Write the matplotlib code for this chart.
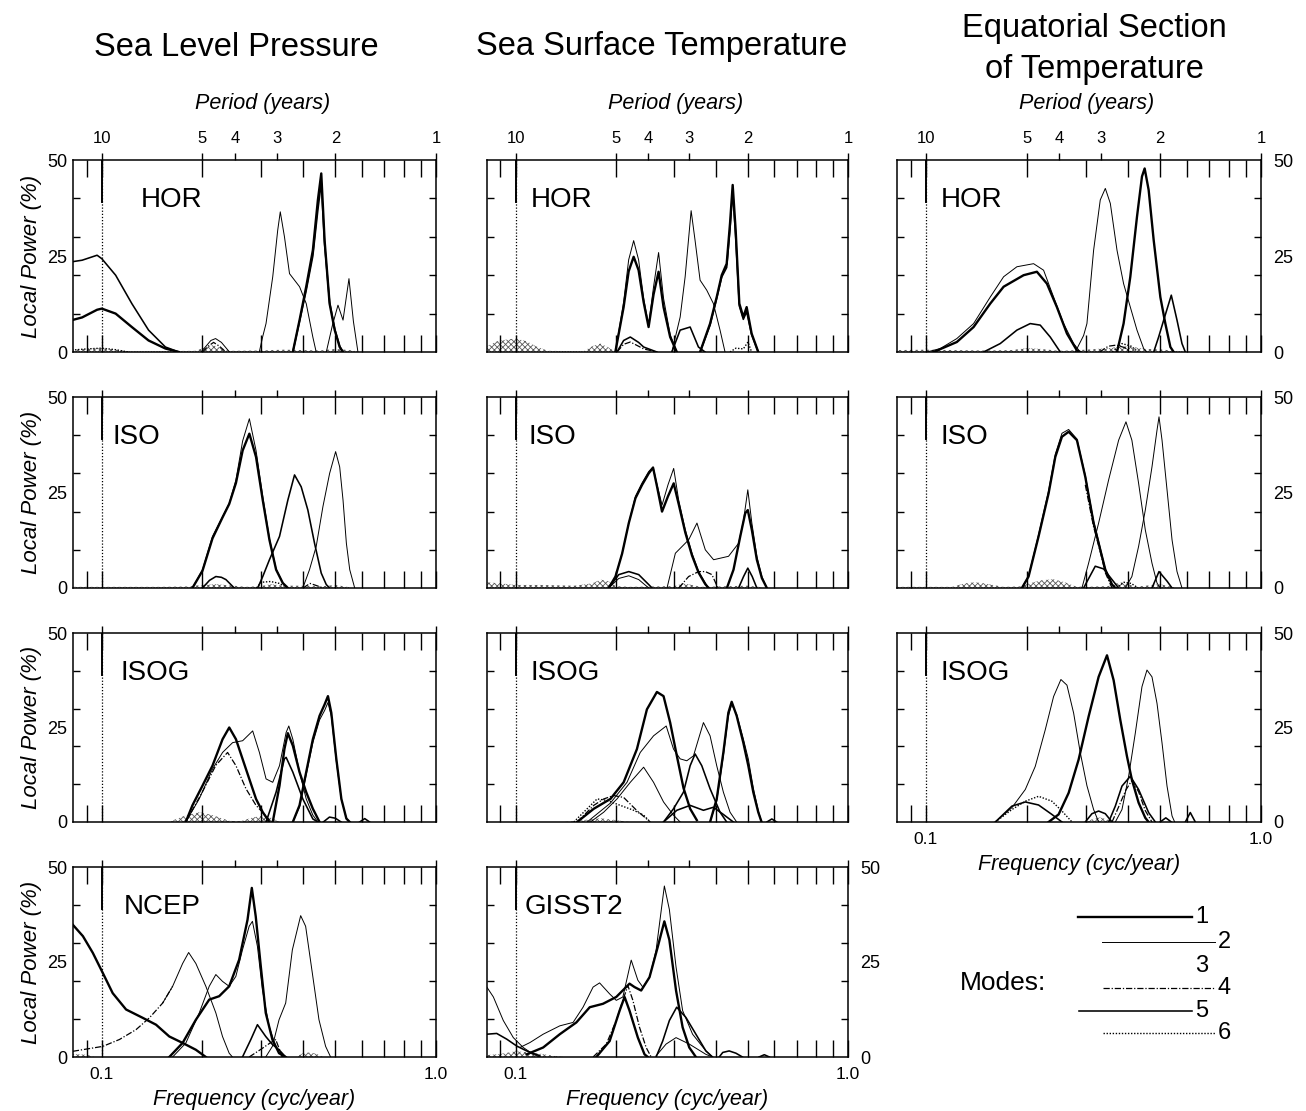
import matplotlib
matplotlib.use('Agg')
import matplotlib.pyplot as plt
from matplotlib.ticker import FixedLocator, NullFormatter, FixedFormatter, NullLocator
from matplotlib.lines import Line2D

plt.rcParams['font.family'] = ['Liberation Sans', 'DejaVu Sans']
plt.rcParams['hatch.linewidth'] = 0.6

# ---------------- data: frequency (cyc/yr) and local power (%) per mode curve ----------------
# Sea Level Pressure - HOR
slp_hor_freq = [
    [0.0814, 0.0873, 0.0968, 0.100, 0.110, 0.123, 0.138, 0.155, 0.170],
    [0.0814, 0.0873, 0.0968, 0.100, 0.110, 0.123, 0.138, 0.155, 0.170],
    [0.0814, 0.090, 0.100, 0.110, 0.120],
    [0.198, 0.205, 0.212, 0.219, 0.228, 0.241],
    [0.200, 0.208, 0.216, 0.225, 0.235],
    [0.296, 0.303, 0.310, 0.3247, 0.336, 0.342, 0.352, 0.3645, 0.3906, 0.409, 0.428, 0.438],
    [0.3729, 0.3906, 0.4089, 0.4281, 0.4432, 0.4536, 0.4642, 0.4804, 0.4977, 0.515, 0.5268],
    [0.3729, 0.3906, 0.4089, 0.4281, 0.4432, 0.4536, 0.4642, 0.4804, 0.4977, 0.515, 0.5268],
    [0.4696, 0.490, 0.509, 0.527, 0.549, 0.566, 0.584],
]
slp_hor_power = [
    [23.5, 23.9, 25.2, 24.3, 20.0, 12.6, 5.7, 1.3, 0],
    [8.3, 9.0, 11.0, 11.3, 10.0, 6.5, 3.0, 0.9, 0],
    [0.5, 0.8, 1.0, 0.6, 0],
    [0, 1.5, 3.0, 3.5, 2.5, 0],
    [0, 1.5, 2.5, 1.5, 0],
    [0, 4, 7.4, 19.6, 31.7, 36.5, 30, 20.4, 17, 12.6, 3.9, 0],
    [0, 8.3, 17, 26.5, 39.6, 46.5, 29, 12.6, 5.7, 1.3, 0],
    [0, 8, 16, 25, 37, 44, 28, 13, 6, 1.5, 0],
    [0, 7, 12.2, 8.3, 19.1, 8, 0],
]
slp_hor_modes = [5, 1, 6, 2, 4, 2, 1, 5, 2]
slp_hor_noise_f = [0.0814, 0.09, 0.1, 0.11, 0.12, 0.19, 0.205, 0.215, 0.225, 0.24, 0.30, 0.35, 0.40, 0.45, 0.50, 0.55, 0.58]
slp_hor_noise_v = [0.6, 0.8, 1.0, 0.6, 0.2, 0.3, 1.2, 1.8, 1.2, 0.3, 0.4, 0.6, 0.5, 0.4, 0.8, 0.5, 0.2]

# Sea Surface Temperature - HOR
sst_hor_freq = [
    [0.1995, 0.2113, 0.2188, 0.2265, 0.2344, 0.2427, 0.2512, 0.2600, 0.2692, 0.2786, 0.2917, 0.3055],
    [0.1995, 0.2113, 0.2188, 0.2265, 0.2344, 0.2427, 0.2512, 0.2600, 0.2692, 0.2786, 0.2917, 0.3055],
    [0.2951, 0.3126, 0.3236, 0.3373, 0.3467, 0.3589, 0.3758, 0.3936, 0.4121, 0.4266],
    [0.3589, 0.3846, 0.4027, 0.4169, 0.4315, 0.4416, 0.4498, 0.4592, 0.4710, 0.4842, 0.4955, 0.5129, 0.5370],
    [0.3589, 0.3846, 0.4027, 0.4169, 0.4315, 0.4416, 0.4498, 0.4592, 0.4710, 0.4842, 0.4955, 0.5129, 0.5370],
    [0.2018, 0.2113, 0.2213, 0.2344, 0.2427, 0.2661],
    [0.2018, 0.2113, 0.2213, 0.2344, 0.2427, 0.2661],
    [0.2951, 0.3126, 0.3350, 0.3548, 0.3715],
    [0.4416, 0.4600, 0.4842, 0.5000, 0.5129],
]
sst_hor_power = [
    [0, 11.7, 21, 24.8, 21.3, 13, 6.5, 15, 20.9, 11.7, 3.9, 0],
    [0, 13, 24, 29, 24, 14, 7, 17, 25.9, 14, 4.5, 0],
    [0, 9.1, 19.6, 36.8, 29, 18.7, 16.1, 12.6, 5.7, 0],
    [0, 7.4, 14.3, 20, 23, 33.5, 43.5, 31.7, 12.6, 9.1, 11.7, 4.8, 0],
    [0, 7, 14, 19.5, 22, 32, 42, 30, 12, 8.5, 10.5, 4.5, 0],
    [0, 3, 3.9, 2.5, 1.3, 0],
    [0, 2, 2.6, 1.5, 0.8, 0],
    [0, 5.7, 6.5, 1.3, 0],
    [0, 1, 0.8, 2.6, 0],
]
sst_hor_modes = [1, 2, 2, 1, 5, 5, 4, 5, 6]
sst_hor_noise_f = [0.082, 0.088, 0.095, 0.1, 0.108, 0.115, 0.125, 0.16, 0.17, 0.18, 0.19, 0.20]
sst_hor_noise_v = [1.5, 2.8, 3.3, 3.5, 2.8, 1.5, 0.3, 0.2, 1.5, 2.2, 1.2, 0]

# Equatorial Section of Temperature - HOR
eq_hor_freq = [
    [0.1007, 0.1104, 0.1237, 0.1388, 0.1556, 0.1706, 0.1869, 0.2096, 0.2245, 0.2405, 0.2576, 0.2760, 0.2888],
    [0.1054, 0.1237, 0.1388, 0.1556, 0.1706, 0.1957, 0.2144, 0.2297, 0.2460, 0.2636, 0.2823, 0.2888],
    [0.1487, 0.1667, 0.1869, 0.2048, 0.2194, 0.2350, 0.2518],
    [0.2791, 0.2956, 0.3024, 0.3166, 0.3314, 0.3431, 0.3551, 0.3718, 0.3890, 0.4074, 0.4265, 0.4465, 0.4569],
    [0.3718, 0.3890, 0.4074, 0.4265, 0.4414, 0.4496, 0.4621, 0.4784, 0.5008, 0.5183, 0.5365, 0.5489],
    [0.4784, 0.4949, 0.5124, 0.5399, 0.5615, 0.5810, 0.5945],
    [0.33, 0.35, 0.37, 0.39, 0.41],
    [0.36, 0.385, 0.41, 0.43],
]
eq_hor_power = [
    [0, 0.9, 3.5, 7.4, 14.3, 19.6, 22.2, 23, 21.3, 14.3, 7.4, 2.2, 0],
    [0, 2.6, 6.5, 12.6, 17, 20, 20.9, 17.8, 11.7, 4.8, 0.4, 0],
    [0, 2.2, 5.7, 7.4, 7, 3.9, 0],
    [0, 4.3, 7.4, 26.5, 39.6, 42.6, 38.7, 26.5, 17.8, 11.7, 5.7, 0.9, 0],
    [0, 7.4, 19.6, 35.2, 45.7, 47.8, 42.2, 29.1, 14.3, 7.4, 1.3, 0],
    [0, 3.9, 8.3, 14.8, 8.3, 2.2, 0],
    [0, 1.5, 1.8, 1.2, 0],
    [0, 2.2, 1.5, 0],
]
eq_hor_modes = [2, 1, 5, 2, 1, 5, 4, 6]
eq_hor_noise_f = [0.082, 0.1, 0.12, 0.15, 0.18, 0.2, 0.22, 0.25, 0.3, 0.35, 0.4, 0.45, 0.5, 0.55, 0.6]
eq_hor_noise_v = [0.5, 0.6, 0.5, 0.4, 0.5, 1.0, 0.8, 0.3, 0.6, 1.0, 1.5, 0.8, 0.7, 0.3, 0.2]

# Sea Level Pressure - ISO
slp_iso_freq = [
    [0.1867, 0.2001, 0.2144, 0.2298, 0.2406, 0.2520, 0.2639, 0.2764, 0.2894, 0.3031, 0.3174, 0.3323, 0.3480, 0.3603],
    [0.1867, 0.2001, 0.2144, 0.2298, 0.2406, 0.2520, 0.2639, 0.2764, 0.2894, 0.3031, 0.3174, 0.3323, 0.3480, 0.3603],
    [0.2927, 0.3031, 0.3174, 0.3402, 0.3603, 0.3773, 0.3950, 0.4136, 0.4331, 0.4535, 0.4695, 0.4805],
    [0.3995, 0.4183, 0.4381, 0.4588, 0.4805, 0.5008, 0.5150, 0.5270, 0.5393, 0.5519, 0.5711],
    [0.2001, 0.2100, 0.2194, 0.2280, 0.2352, 0.2491],
    [0.29, 0.30, 0.32, 0.34, 0.36],
    [0.40, 0.42, 0.44, 0.46],
]
slp_iso_power = [
    [0, 4.8, 13.5, 18.7, 22.2, 28.3, 38.5, 44.3, 36, 24, 13, 5, 1.3, 0],
    [0, 4.5, 13, 18.5, 22, 27.5, 36, 40.4, 34.3, 23, 12.6, 4.8, 1.3, 0],
    [0, 3, 7.4, 13.5, 23, 29.6, 26.5, 20.4, 11.7, 3.9, 0.9, 0],
    [0, 4.8, 10.9, 21.3, 30, 35.7, 31.7, 23, 11.7, 4.8, 0],
    [0, 2, 3, 2.8, 2.2, 0],
    [0, 1.5, 1.7, 1.2, 0],
    [0, 1.2, 0.6, 0],
]
slp_iso_modes = [2, 1, 5, 2, 5, 6, 4]
slp_iso_noise_f = [0.082, 0.15, 0.18, 0.2, 0.22, 0.24, 0.27, 0.3, 0.32, 0.35, 0.4, 0.45, 0.5, 0.55]
slp_iso_noise_v = [0.3, 0.3, 0.4, 0.8, 1.0, 0.7, 0.3, 0.5, 1.0, 0.6, 0.6, 0.4, 0.8, 0.2]

# Sea Surface Temperature - ISO
sst_iso_freq = [
    [0.1906, 0.1997, 0.2091, 0.2190, 0.2293, 0.2401, 0.2514, 0.2591, 0.2664, 0.2757, 0.2873, 0.2989, 0.3094, 0.3240, 0.3394, 0.3553, 0.3721, 0.3806],
    [0.1906, 0.1997, 0.2091, 0.2190, 0.2293, 0.2401, 0.2514, 0.2591, 0.2664, 0.2757, 0.2873, 0.2989, 0.3094, 0.3240, 0.3394, 0.3553, 0.3721, 0.3806],
    [0.2854, 0.3024, 0.3315, 0.3512, 0.3721, 0.3941, 0.4371, 0.4685, 0.4851, 0.4995, 0.5137, 0.5318, 0.5506, 0.5700],
    [0.4321, 0.4524, 0.4740, 0.4907, 0.4995, 0.5137, 0.5318, 0.5506, 0.5700],
    [0.3094, 0.3315, 0.3553, 0.3721, 0.3896, 0.4061],
    [0.1906, 0.2043, 0.2190, 0.2346, 0.2514, 0.2573],
    [0.1906, 0.2043, 0.2190, 0.2346, 0.2514],
    [0.4685, 0.4850, 0.4995, 0.5150, 0.5318],
]
sst_iso_power = [
    [0, 3, 9, 17, 23.5, 27, 30, 31.5, 26.5, 20, 24, 27.4, 22, 14.5, 8.5, 4, 1, 0],
    [0, 3, 9.1, 17, 24, 27.5, 30.5, 31.7, 27, 21.7, 27, 31.3, 23, 15.2, 9.1, 4.3, 1.3, 0],
    [0, 9.1, 12.6, 17, 10, 7.4, 8.3, 11.7, 17.8, 25.7, 17, 8.3, 3, 0],
    [0, 4.8, 13.5, 19.6, 20.4, 15.2, 7.4, 2.6, 0],
    [0, 3, 4.3, 4.3, 3.5, 0],
    [0, 3.5, 4.3, 3.5, 0.9, 0],
    [0, 2.5, 3.2, 2.2, 0],
    [0, 3, 5.2, 3, 0],
]
sst_iso_modes = [1, 2, 2, 1, 4, 5, 2, 5]
sst_iso_noise_f = [0.082, 0.09, 0.1, 0.12, 0.15, 0.17, 0.18, 0.19, 0.2, 0.22, 0.3, 0.32, 0.34, 0.36, 0.5, 0.55]
sst_iso_noise_v = [1.5, 1.2, 0.8, 0.8, 0.6, 1.2, 2.2, 1.8, 0.5, 0.3, 0.5, 1.2, 0.8, 0.3, 0.6, 0.2]

# Equatorial Section of Temperature - ISO
eq_iso_freq = [
    [0.1934, 0.2025, 0.2169, 0.2324, 0.2433, 0.2547, 0.2667, 0.2823, 0.2990, 0.3166, 0.3314, 0.3431, 0.3593, 0.3677],
    [0.1934, 0.2025, 0.2169, 0.2324, 0.2433, 0.2547, 0.2667, 0.2823, 0.2990, 0.3166, 0.3314, 0.3431, 0.3593, 0.3677],
    [0.2922, 0.3059, 0.3277, 0.3510, 0.3760, 0.3954, 0.4118, 0.4313, 0.4516, 0.4728, 0.4894, 0.5008],
    [0.3936, 0.4118, 0.4313, 0.4516, 0.4728, 0.4894, 0.4962, 0.5066, 0.5243, 0.5427, 0.5615, 0.5810],
    [0.2990, 0.3166, 0.3314, 0.3431, 0.3593],
    [0.2955, 0.3202, 0.3391, 0.3593, 0.3760],
    [0.4728, 0.4962, 0.5243, 0.5427],
    [0.37, 0.39, 0.41, 0.43],
]
eq_iso_power = [
    [0, 3, 13.5, 24.8, 34.3, 39.6, 40.9, 38.7, 29.1, 17, 10, 4.8, 0.9, 0],
    [0, 3.2, 14, 25.5, 35, 40.5, 41.5, 39, 29.5, 17.5, 10.5, 5, 1, 0],
    [0, 6.5, 17, 28.3, 38.7, 43.5, 38.7, 27.4, 15.2, 6.5, 1.3, 0],
    [0, 3, 10.9, 20.4, 31.7, 41.3, 44.8, 38.7, 25.7, 12.6, 4.3, 0],
    [27, 16, 9.5, 4, 0],
    [0, 5.7, 5, 2.2, 0],
    [0, 4.3, 1.8, 0],
    [0, 1.5, 1.2, 0],
]
eq_iso_modes = [1, 2, 2, 2, 4, 5, 5, 6]
eq_iso_noise_f = [0.082, 0.12, 0.13, 0.14, 0.15, 0.17, 0.19, 0.2, 0.22, 0.24, 0.26, 0.28, 0.3, 0.35, 0.38, 0.4, 0.42, 0.5, 0.55]
eq_iso_noise_v = [0.3, 0.3, 1.2, 1.5, 1.2, 0.3, 0.4, 1.0, 2.0, 2.3, 1.5, 0.4, 0.3, 0.5, 1.5, 1.2, 0.3, 1.0, 0.2]

# Sea Level Pressure - ISOG
slp_isog_freq = [
    [0.1783, 0.1867, 0.2001, 0.2144, 0.2298, 0.2406, 0.2520, 0.2700, 0.2894, 0.3031, 0.3174],
    [0.1783, 0.1956, 0.2144, 0.2298, 0.2463, 0.2639, 0.2828, 0.2962, 0.3101, 0.3247, 0.3402, 0.3561, 0.3627, 0.3729, 0.3905, 0.4089, 0.4281, 0.4432],
    [0.3247, 0.3402, 0.3519, 0.3603, 0.3729, 0.3905, 0.4089, 0.4281, 0.4483],
    [0.3101, 0.3323, 0.3519, 0.3561, 0.3729, 0.3995, 0.4281, 0.4432],
    [0.1783, 0.2001, 0.2194, 0.2379, 0.2520, 0.2700, 0.2894, 0.3031, 0.3174],
    [0.3729, 0.3905, 0.4089, 0.4281, 0.4483, 0.4642, 0.4750, 0.4861, 0.5032, 0.5210, 0.5393, 0.5519],
    [0.3729, 0.3905, 0.4089, 0.4281, 0.4483, 0.4642, 0.4750, 0.4861, 0.5032, 0.5210, 0.5393, 0.5519],
    [0.46, 0.48, 0.50, 0.52],
    [0.591, 0.612, 0.633],
]
slp_isog_power = [
    [0, 4.4, 9.6, 14.9, 21.9, 25, 21.9, 14, 6.1, 2.6, 0],
    [0, 6.1, 14, 18.4, 21, 21.5, 24.1, 18.4, 11.4, 10.5, 14.9, 23.7, 25.4, 21.9, 13.2, 6.1, 1.8, 0],
    [0, 9.6, 19.3, 23.5, 20.2, 13.2, 7.9, 3.5, 0],
    [0, 7.9, 16.7, 17.1, 13.2, 6.1, 0.8, 0],
    [0, 8, 15, 18.4, 14.9, 8.8, 4.4, 2.5, 0.5],
    [0, 4.4, 13.2, 21.9, 28.1, 31.1, 33.3, 28.9, 16.7, 6.1, 0.9, 0],
    [0, 4, 12.5, 21, 27, 29.5, 31.6, 28, 16, 6, 1, 0],
    [0, 1.3, 1.0, 0],
    [0, 0.9, 0],
]
slp_isog_modes = [1, 2, 1, 5, 4, 1, 2, 5, 5]
slp_isog_noise_f = [0.1589, 0.175, 0.1956, 0.215, 0.2406, 0.26, 0.2828, 0.31, 0.3402]
slp_isog_noise_v = [0, 1.5, 2.6, 1.8, 0.3, 0.2, 1.2, 1.8, 0]

# Sea Surface Temperature - ISOG
sst_isog_freq = [
    [0.1531, 0.1718, 0.1928, 0.2113, 0.2317, 0.2483, 0.2661, 0.2786, 0.2917, 0.3055, 0.3199, 0.3350, 0.3508],
    [0.1641, 0.1928, 0.2163, 0.2371, 0.2600, 0.2838, 0.2985, 0.3126, 0.3273, 0.3428, 0.3673, 0.3846, 0.4027, 0.4217, 0.4416, 0.4624],
    [0.1679, 0.1841, 0.2018, 0.2213, 0.2427, 0.2600, 0.2786, 0.2985, 0.3126],
    [0.2786, 0.2985, 0.3199, 0.3350, 0.3467, 0.3631, 0.3846, 0.4121, 0.4315],
    [0.1496, 0.1641, 0.1758, 0.1884, 0.2065, 0.2265, 0.2427, 0.2541],
    [0.3846, 0.4027, 0.4217, 0.4365, 0.4467, 0.4624, 0.4842, 0.5012, 0.5188, 0.5370, 0.5495],
    [0.3846, 0.4027, 0.4217, 0.4365, 0.4467, 0.4624, 0.4842, 0.5012, 0.5188, 0.5370, 0.5495],
    [0.2786, 0.3055, 0.3350, 0.3673, 0.3936, 0.4217, 0.4519],
    [0.1531, 0.1718, 0.1841, 0.1972, 0.2113, 0.2317, 0.2541],
    [0.57, 0.59, 0.61],
]
sst_isog_power = [
    [0, 3.5, 6.1, 10.5, 19.3, 29.8, 34.4, 33.3, 26.3, 17.5, 9, 3.5, 0.5],
    [0, 5, 10.5, 18.4, 22.8, 25.4, 19.3, 16.7, 16.2, 17.5, 26.3, 22.8, 14.9, 7.9, 2.6, 0],
    [0, 2.6, 6.1, 10.5, 14.5, 10.5, 5.3, 1.8, 0],
    [0, 3.5, 7.9, 14.9, 18, 14.9, 8.8, 2.6, 0],
    [0, 3.5, 6.1, 5.7, 4.4, 3.1, 1.8, 0],
    [0, 6.1, 18.4, 28.9, 31.8, 28.1, 21, 14.9, 7.9, 2.6, 0],
    [0, 5.5, 17.5, 28, 31.1, 28.5, 22, 16.7, 9, 3, 0],
    [0, 3.1, 4.4, 3.1, 3.9, 2, 0],
    [0, 4.4, 6.1, 7, 6.5, 3, 0],
    [0, 0.8, 0],
]
sst_isog_modes = [1, 2, 2, 5, 6, 1, 2, 5, 4, 5]
sst_isog_noise_f = [0.14, 0.16, 0.18, 0.2, 0.22]
sst_isog_noise_v = [0, 0.5, 1, 0.5, 0]

# Equatorial Section of Temperature - ISOG
eq_isog_freq = [
    [0.1611, 0.1806, 0.1980, 0.2120, 0.2271, 0.2405, 0.2529, 0.2636, 0.2760, 0.2888, 0.3024, 0.3166, 0.3277],
    [0.2324, 0.2489, 0.2667, 0.2856, 0.3059, 0.3277, 0.3471, 0.3633, 0.3803, 0.3981, 0.4118, 0.4313, 0.4516, 0.4620],
    [0.3675, 0.3847, 0.4027, 0.4216, 0.4414, 0.4568, 0.4728, 0.4894, 0.5066, 0.5243, 0.5427, 0.5526],
    [0.3510, 0.3675, 0.3847, 0.4074, 0.4313, 0.4620, 0.4838],
    [0.3593, 0.3760, 0.3954, 0.4118, 0.4313, 0.4516, 0.4728],
    [0.1611, 0.1806, 0.1980, 0.2169, 0.2377, 0.2547, 0.2729],
    [0.1611, 0.1806, 0.1980, 0.2169, 0.2377, 0.2547],
    [0.2990, 0.3130, 0.3277, 0.3430, 0.3593],
    [0.5945, 0.6152, 0.6368],
    [0.50, 0.52, 0.54],
]
eq_isog_power = [
    [0, 3.8, 8.6, 14.7, 24.4, 33.2, 37.7, 36.2, 28.8, 18.4, 9.6, 3.3, 0],
    [0, 2, 7.7, 16.5, 27.9, 38.4, 44.1, 37.5, 27, 17.4, 11.2, 5.1, 1.1, 0],
    [0, 3.3, 12.1, 23.5, 35.8, 40.2, 38.4, 31.4, 20.9, 9.5, 1.6, 0],
    [0, 4.2, 9.5, 12.1, 8.6, 2.5, 0],
    [0, 4, 8.5, 11, 8, 3, 0],
    [0, 3.3, 5.5, 6.8, 5.5, 2.9, 0],
    [0, 4.2, 5.3, 4.5, 2, 0],
    [0, 2.2, 2.9, 2.2, 0],
    [0, 2.5, 0],
    [0, 1.1, 0],
]
eq_isog_modes = [2, 1, 2, 5, 4, 6, 5, 5, 5, 5]
eq_isog_noise_f = [0.30, 0.315, 0.33, 0.345, 0.36]
eq_isog_noise_v = [0, 0.8, 1.2, 0.8, 0]

# Sea Level Pressure - NCEP
slp_ncep_freq = [
    [0.0819, 0.0878, 0.0940, 0.1007, 0.1078, 0.1182, 0.1326, 0.1453, 0.1592, 0.1745, 0.1912, 0.2048],
    [0.0819, 0.1007, 0.1129, 0.1266, 0.1388, 0.1521, 0.1629],
    [0.1521, 0.1629, 0.1745, 0.1819, 0.1912, 0.2048, 0.2194, 0.2297, 0.2405, 0.2460],
    [0.1629, 0.1785, 0.1957, 0.2096, 0.2194, 0.2297, 0.2405, 0.2518, 0.2636, 0.2760, 0.2823, 0.2922, 0.3024, 0.3166, 0.3314, 0.3470],
    [0.1592, 0.1745, 0.1912, 0.2096, 0.2245, 0.2405, 0.2576, 0.2729, 0.2811, 0.2888, 0.2990, 0.3094, 0.3239, 0.3391, 0.3550],
    [0.2636, 0.2792, 0.2922, 0.3094, 0.3239, 0.3391, 0.3550],
    [0.2760, 0.2990, 0.3166, 0.3314, 0.3470],
    [0.3094, 0.3239, 0.3391, 0.3550, 0.3717, 0.3936, 0.4073, 0.4265, 0.4465, 0.4674, 0.4838],
]
slp_ncep_power = [
    [34.8, 31.8, 27.4, 22.1, 16.8, 12.5, 10.3, 8.5, 5.4, 3.7, 1.9, 0],
    [1.5, 2.8, 4.6, 7.2, 10.3, 14.2, 18.6],
    [14.2, 18.6, 24.6, 27.5, 24.6, 18.6, 11.6, 5.4, 1, 0],
    [0, 3.7, 11.6, 18.6, 21.7, 19.9, 18.6, 21.2, 28.2, 34.4, 35.7, 29.1, 17.7, 8.1, 2.8, 0],
    [0, 3.7, 9.8, 15.1, 16, 18.6, 25.6, 36.1, 44.5, 37, 23.9, 11.6, 4.6, 1, 0],
    [0, 4.6, 8.5, 5.4, 3.3, 1.9, 0],
    [0, 2, 3.5, 4.6, 0],
    [0, 2.8, 9.8, 14.2, 28.2, 37.2, 34.4, 22.1, 9.8, 2.8, 0],
]
slp_ncep_modes = [1, 4, 2, 2, 1, 5, 4, 2]
slp_ncep_noise_f = [0.0819, 0.09, 0.095, 0.38, 0.40, 0.42, 0.44, 0.46]
slp_ncep_noise_v = [0.8, 0.6, 0, 0, 1.0, 1.2, 0.8, 0]

# Sea Surface Temperature - GISST2
sst_gisst_freq = [
    [0.0819, 0.0857, 0.0918, 0.0984, 0.1054, 0.1130, 0.1183],
    [0.0819, 0.0877, 0.0940, 0.1007, 0.1079, 0.1183],
    [0.1030, 0.1104, 0.1210, 0.1358, 0.1489, 0.1595, 0.1710, 0.1789, 0.1918, 0.2008, 0.2102, 0.2227, 0.2332, 0.2414, 0.2528, 0.2646, 0.2802, 0.2901, 0.3038, 0.3180, 0.3407, 0.3736, 0.3912],
    [0.1079, 0.1210, 0.1358, 0.1523, 0.1671, 0.1831, 0.2008, 0.2201, 0.2279, 0.2386, 0.2528, 0.2677, 0.2802, 0.2901, 0.3038, 0.3180, 0.3330, 0.3486],
    [0.1710, 0.1874, 0.2008, 0.2102, 0.2176, 0.2253, 0.2359, 0.2470, 0.2557],
    [0.1749, 0.1918, 0.2055, 0.2127, 0.2201, 0.2332, 0.2442, 0.2499],
    [0.2646, 0.2770, 0.2901, 0.3052, 0.3254, 0.3486, 0.3736, 0.3912],
    [0.2646, 0.2835, 0.3038, 0.3330, 0.3736, 0.3912],
    [0.4096, 0.4200, 0.4389, 0.4600, 0.4814],
    [0.54, 0.56, 0.58],
]
sst_gisst_power = [
    [18.4, 15.8, 9.6, 5.1, 2.5, 0.7, 0],
    [6, 6.2, 4.7, 2.9, 1.6, 0.3],
    [2.5, 3.8, 6, 8.2, 9.1, 13.1, 18.4, 19.5, 16.6, 14.9, 15.8, 25.5, 20.2, 18.4, 21, 28.1, 45, 38.8, 23.7, 12.2, 6, 1.6, 0],
    [0.7, 2.5, 6, 9.1, 13.1, 14, 15.8, 19.3, 18.4, 17.5, 21, 29, 35.7, 30.8, 17.5, 7.8, 2.5, 0],
    [0, 3.4, 9.6, 14.9, 18.8, 14.9, 7.8, 2.5, 0],
    [0, 4.2, 12.2, 15.8, 12.2, 5.1, 0.7, 0],
    [0, 4.2, 9.6, 13.1, 10.4, 6, 1.6, 0],
    [0.3, 3.4, 5.1, 3.4, 0.7, 0],
    [0, 1.2, 1.6, 1.0, 0],
    [0, 0.6, 0],
]
sst_gisst_modes = [2, 5, 2, 1, 4, 1, 5, 2, 5, 5]
sst_gisst_noise_f = [0.0819, 0.09, 0.1, 0.11, 0.12, 0.13, 0.14]
sst_gisst_noise_v = [0.5, 0.8, 1.5, 1.2, 0.8, 0.3, 0]

column_titles = ['Sea Level Pressure', 'Sea Surface Temperature', 'Equatorial Section\nof Temperature']
period_ticks = [0.1, 0.2, 0.25, 1 / 3, 0.5, 1.0]
period_labels = ['10', '5', '4', '3', '2', '1']
legend_modes = [1, 2, 3, 4, 5, 6]

# ---------------- styles / layout ----------------
MODE_STYLE = {
    1: dict(lw=1.7, ls='-'),
    2: dict(lw=0.7, ls='-'),
    4: dict(lw=0.9, ls=(0, (5, 1.5, 1, 1.5))),
    5: dict(lw=1.15, ls='-'),
    6: dict(lw=1.0, ls=(0, (1, 1.2))),
}

W, H = 1306, 1111
fig = plt.figure(figsize=(W / 100, H / 100), dpi=100)

COL_X = [73, 487, 897]
COL_W = [363, 361, 364]
ROW_Y = [160, 397, 633, 867]
ROW_H = [192, 191, 189, 190]

panels = [
    (0, 0, 'HOR', slp_hor_freq, slp_hor_power, slp_hor_modes, slp_hor_noise_f, slp_hor_noise_v, 0.187),
    (0, 1, 'HOR', sst_hor_freq, sst_hor_power, sst_hor_modes, sst_hor_noise_f, sst_hor_noise_v, 0.12),
    (0, 2, 'HOR', eq_hor_freq, eq_hor_power, eq_hor_modes, eq_hor_noise_f, eq_hor_noise_v, 0.12),
    (1, 0, 'ISO', slp_iso_freq, slp_iso_power, slp_iso_modes, slp_iso_noise_f, slp_iso_noise_v, 0.11),
    (1, 1, 'ISO', sst_iso_freq, sst_iso_power, sst_iso_modes, sst_iso_noise_f, sst_iso_noise_v, 0.115),
    (1, 2, 'ISO', eq_iso_freq, eq_iso_power, eq_iso_modes, eq_iso_noise_f, eq_iso_noise_v, 0.12),
    (2, 0, 'ISOG', slp_isog_freq, slp_isog_power, slp_isog_modes, slp_isog_noise_f, slp_isog_noise_v, 0.13),
    (2, 1, 'ISOG', sst_isog_freq, sst_isog_power, sst_isog_modes, sst_isog_noise_f, sst_isog_noise_v, 0.12),
    (2, 2, 'ISOG', eq_isog_freq, eq_isog_power, eq_isog_modes, eq_isog_noise_f, eq_isog_noise_v, 0.12),
    (3, 0, 'NCEP', slp_ncep_freq, slp_ncep_power, slp_ncep_modes, slp_ncep_noise_f, slp_ncep_noise_v, 0.14),
    (3, 1, 'GISST2', sst_gisst_freq, sst_gisst_power, sst_gisst_modes, sst_gisst_noise_f, sst_gisst_noise_v, 0.105),
]

bottom_panels = {(3, 0), (3, 1), (2, 2)}
right_label_panels = {(0, 2), (1, 2), (2, 2), (3, 1)}

for (r, c, name, freqs, powers, modes, nf, nv, lx) in panels:
    left = COL_X[c] / W
    bottom = 1 - (ROW_Y[r] + ROW_H[r]) / H
    ax = fig.add_axes([left, bottom, COL_W[c] / W, ROW_H[r] / H])
    ax.set_xscale('log')
    ax.set_xlim(0.082, 1.0)
    ax.set_ylim(0, 50)

    # noise level (stippled)
    ax.fill_between(nf, 0, nv, facecolor='none', edgecolor='0.35', hatch='xxxxxx', lw=0)
    for f, p, m in zip(freqs, powers, modes):
        st = MODE_STYLE[m]
        ax.plot(f, p, color='black', lw=st['lw'], ls=st['ls'], solid_joinstyle='round')

    ax.axvline(0.1, ls=(0, (1, 1.5)), lw=0.9, color='black')
    ax.axvline(0.1, ymin=0.78, ymax=1.0, lw=1.4, color='black')

    ax.text(lx, 0.79, name, transform=ax.transAxes, fontsize=20, va='center', ha='left')

    # top period axis
    tw = ax.twiny()
    tw.set_xscale('log')
    tw.set_xlim(0.082, 1.0)
    tw.xaxis.set_major_locator(FixedLocator(period_ticks))
    tw.xaxis.set_minor_locator(NullLocator())
    tw.xaxis.set_major_formatter(FixedFormatter(period_labels))
    tw.tick_params(axis='x', direction='out', length=5, width=1.0, labeltop=(r == 0),
                   labelsize=12, pad=5, top=True, bottom=False)
    for s in tw.spines.values():
        s.set_visible(False)

    # frequency axis
    ax.xaxis.set_major_locator(FixedLocator([0.1, 1.0]))
    ax.xaxis.set_major_formatter(FixedFormatter(['0.1', '1.0']))
    ax.xaxis.set_minor_locator(FixedLocator([0.09, 0.2, 0.3, 0.4, 0.5, 0.6, 0.7, 0.8, 0.9]))
    ax.xaxis.set_minor_formatter(NullFormatter())
    ax.tick_params(axis='x', which='both', direction='in', top=True, bottom=True,
                   length=12.5, width=1.0, labelbottom=((r, c) in bottom_panels),
                   labeltop=False, labelsize=12.5, pad=7)

    ax.yaxis.set_major_locator(FixedLocator([0, 25, 50]))
    ax.yaxis.set_major_formatter(FixedFormatter(['0', '25', '50']))
    ax.yaxis.set_minor_locator(FixedLocator([0, 10, 20, 30, 40, 50]))
    ax.yaxis.set_minor_formatter(NullFormatter())
    right_lab = (r, c) in right_label_panels
    ax.tick_params(axis='y', which='major', length=0, left=True, right=True,
                   labelleft=(c == 0), labelright=right_lab, labelsize=13, pad=9 if right_lab else 4)
    ax.tick_params(axis='y', which='minor', direction='in', length=5, width=1.0, left=True, right=True)

    for s in ax.spines.values():
        s.set_linewidth(1.1)

    if c == 0:
        ax.set_ylabel('Local Power (%)', fontsize=16, style='italic', labelpad=4)
    if (r, c) in bottom_panels:
        ax.set_xlabel('Frequency (cyc/year)', fontsize=15.5, style='italic', labelpad=5)

# column titles & period labels
title_x = [236, 662, 1094]
for c, t in enumerate(column_titles):
    if '\n' in t:
        fig.text(title_x[c] / W, 1 - 49 / H, t, ha='center', va='center', fontsize=23.5, linespacing=1.45)
    else:
        fig.text(title_x[c] / W, 1 - 47 / H, t, ha='center', va='center', fontsize=23.5)
    fig.text((COL_X[c] + COL_W[c] / 2 + 8) / W, 1 - 103 / H, 'Period (years)',
             ha='center', va='center', fontsize=15.5, style='italic')

# legend of modes
fig.text(1003 / W, 1 - 983 / H, 'Modes:', ha='center', va='center', fontsize=19)
leg_y = [917, 942, 966, 988, 1011, 1033]
leg_x0 = [1078, 1102, None, 1103, 1079, 1103]
leg_x1 = [1192, 1215, None, 1215, 1192, 1215]
for i, m in enumerate(legend_modes):
    y = 1 - leg_y[i] / H
    if m in MODE_STYLE:
        st = MODE_STYLE[m]
        fig.add_artist(Line2D([leg_x0[i] / W, leg_x1[i] / W], [y, y], transform=fig.transFigure,
                              color='black', lw=st['lw'], ls=st['ls']))
        tx = leg_x1[i] + 3
    else:
        tx = 1195
    fig.text(tx / W, y, str(m), ha='left', va='center', fontsize=17)

fig.savefig('out.png', dpi=100)
